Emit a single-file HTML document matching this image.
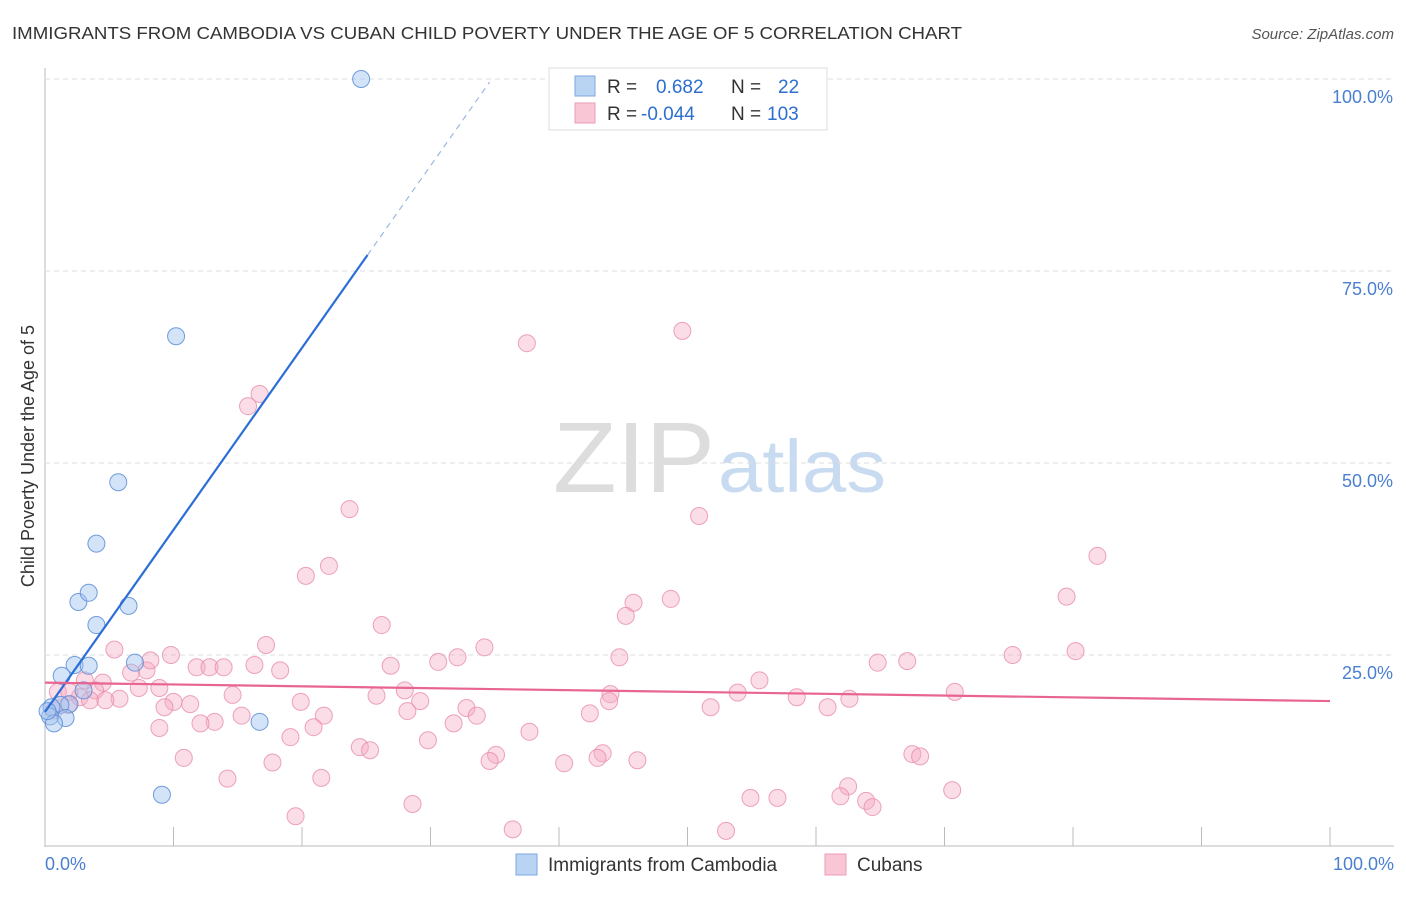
<!DOCTYPE html>
<html><head><meta charset="utf-8"><style>
body{margin:0;background:#fff;font-family:"Liberation Sans",sans-serif;}
svg text{font-family:"Liberation Sans",sans-serif;}
</style></head><body>
<svg id="chart" width="1406" height="892">
<text x="12" y="39" font-size="17.5" fill="#333" textLength="950" lengthAdjust="spacingAndGlyphs">IMMIGRANTS FROM CAMBODIA VS CUBAN CHILD POVERTY UNDER THE AGE OF 5 CORRELATION CHART</text>
<text x="1394" y="39" font-size="15" fill="#555" font-style="italic" text-anchor="end">Source: ZipAtlas.com</text>
<text x="34" y="456" font-size="18" fill="#333" text-anchor="middle" transform="rotate(-90 34 456)">Child Poverty Under the Age of 5</text>
<text x="553" y="492" font-size="100" fill="#ddd" font-family="Liberation Serif" textLength="162" lengthAdjust="spacingAndGlyphs">ZIP</text>
<text x="718" y="492" font-size="74" fill="#c8dbf0" textLength="168" lengthAdjust="spacingAndGlyphs">atlas</text>
<g id="grid"></g><g id="pts"></g><g id="lines"></g>
<g>
<rect x="549" y="68" width="278" height="62" fill="#fff" stroke="#ddd"/>
<rect x="575" y="76" width="20" height="20" fill="#b9d3f3" stroke="#7ea7e0"/>
<rect x="575" y="103" width="20" height="20" fill="#f9c6d5" stroke="#ec9cb6"/>
<text x="607" y="93" font-size="19" fill="#333">R = <tspan fill="#2d6fd0" x="656">0.682</tspan><tspan x="731" fill="#333">N =</tspan><tspan x="778" fill="#2d6fd0">22</tspan></text>
<text x="607" y="120" font-size="19" fill="#333">R = <tspan fill="#2d6fd0" x="641">-0.044</tspan><tspan x="731" fill="#333">N =</tspan><tspan x="767" fill="#2d6fd0">103</tspan></text>
</g>
<g>
<rect x="516" y="854" width="21" height="21" fill="#b9d3f3" stroke="#7ea7e0"/>
<text x="548" y="871" font-size="19" fill="#333">Immigrants from Cambodia</text>
<rect x="825" y="854" width="21" height="21" fill="#f9c6d5" stroke="#ec9cb6"/>
<text x="857" y="871" font-size="19" fill="#333">Cubans</text>
</g>
<text x="45" y="870" font-size="18" fill="#4a7fd0">0.0%</text>
<text x="1394" y="870" font-size="18" fill="#4a7fd0" text-anchor="end">100.0%</text>
</svg>
<script>
const yTicks=[25,50,75,100];
const yTickLabels=["25.0%","50.0%","75.0%","100.0%"];
const xTicks=[0,10,20,30,40,50,60,70,80,90,100];
const cambodiaX=[24.6,10.2,5.7,4.0,2.6,3.4,6.5,4.0,2.3,3.4,1.3,7.0,3.0,1.9,1.2,0.5,0.4,1.6,0.7,16.7,9.1,0.2];
const cambodiaY=[100,66.5,47.5,39.5,31.9,33.1,31.4,28.9,23.7,23.6,22.3,24.0,20.4,18.6,18.5,18.2,17.0,16.8,16.1,16.3,6.8,17.7];
const cubanX=[49.6,37.5,16.7,15.8,23.7,50.9,81.9,20.3,22.1,79.5,48.7,45.8,45.2,26.2,17.2,5.4,34.2,9.8,32.1,44.7,64.8,67.1,75.3,80.2,30.6,11.8,12.8,13.9,16.3,26.9,18.3,7.9,6.7,55.6,8.9,7.3,4.5,3.9,1.0,28.0,44.0,70.8,53.9,14.6,5.8,58.5,19.9,62.6,25.8,29.2,11.3,10.0,43.9,32.8,9.3,51.8,60.9,28.2,42.4,15.3,21.7,33.6,13.2,12.1,31.8,20.9,37.7,8.9,19.1,29.8,24.5,25.3,67.5,68.1,43.4,43.0,10.8,35.1,34.6,46.1,40.4,17.7,14.2,21.5,62.5,70.6,54.9,57.0,61.9,63.9,64.4,28.6,19.5,36.4,53.0,2.7,1.9,0.7,3.5,1.8,8.2,3.1,4.7];
const cubanY=[67.2,65.6,59.0,57.4,44.0,43.1,37.9,35.3,36.6,32.6,32.3,31.8,30.1,28.9,26.3,25.7,26.0,25.0,24.7,24.7,24.0,24.2,25.0,25.5,24.1,23.4,23.4,23.4,23.7,23.6,23.0,23.0,22.7,21.7,20.7,20.7,21.4,20.4,20.2,20.4,19.9,20.2,20.1,19.8,19.3,19.5,18.9,19.3,19.7,19.0,18.6,18.9,19.0,18.1,18.2,18.2,18.2,17.7,17.4,17.1,17.1,17.1,16.3,16.1,16.1,15.6,15.0,15.5,14.3,13.9,13.0,12.6,12.1,11.8,12.2,11.6,11.6,12.0,11.2,11.3,10.9,11.0,8.9,9.0,7.9,7.4,6.4,6.4,6.6,6.0,5.2,5.6,4.0,2.3,2.1,19.5,20.2,17.8,19.1,18.5,24.3,21.7,19.1];
const cambodiaTrend=[17.6,2.37];
const cubanTrend=[21.4,-0.024];
const X=v=>45+v*12.85, Y=v=>847-v*7.68;
const NS="http://www.w3.org/2000/svg";
function mk(t,a,p){const e=document.createElementNS(NS,t);for(const k in a)e.setAttribute(k,a[k]);p.appendChild(e);return e;}
const g=document.getElementById('grid');
mk('line',{x1:45,y1:68,x2:45,y2:847,stroke:'#bbb'},g);
mk('line',{x1:45,y1:846,x2:1394,y2:846,stroke:'#bbb'},g);
yTicks.forEach((t,i)=>{
 const l=mk('line',{x1:45,y1:Y(t),x2:1394,y2:Y(t),stroke:'#ddd','stroke-dasharray':'5,4'},g);
 
 
 const tx=mk('text',{x:1393,y:Y(t)+24,'font-size':18,fill:'#4a7fd0','text-anchor':'end'},g);
 tx.textContent=yTickLabels[i];
 
 
});
xTicks.forEach(t=>{
 const l=mk('line',{x1:X(t),y1:827,x2:X(t),y2:846,stroke:'#bbb'},g);
 
 
});
const p=document.getElementById('pts');
cubanX.forEach((x,i)=>{
 const c=mk('circle',{cx:X(x),cy:Y(cubanY[i]),r:8.5,fill:'rgba(246,170,195,0.4)',stroke:'rgba(232,140,172,0.8)'},p);
 
 
});
cambodiaX.forEach((x,i)=>{
 const c=mk('circle',{cx:X(x),cy:Y(cambodiaY[i]),r:8.5,fill:'rgba(160,195,240,0.45)',stroke:'rgba(90,140,215,0.85)'},p);
 
 
});
const L=document.getElementById('lines');
const bx1=25.1, bx2=34.6;
let b=mk('line',{x1:X(0),y1:Y(cambodiaTrend[0]),x2:X(bx1),y2:Y(cambodiaTrend[0]+cambodiaTrend[1]*bx1),stroke:'#2b6fd6','stroke-width':2.2},L);


b=mk('line',{x1:X(bx1),y1:Y(cambodiaTrend[0]+cambodiaTrend[1]*bx1),x2:X(bx2),y2:Y(cambodiaTrend[0]+cambodiaTrend[1]*bx2),stroke:'#9bb8e3','stroke-width':1.2,'stroke-dasharray':'6,5'},L);


b=mk('line',{x1:X(0),y1:Y(cubanTrend[0]),x2:X(100),y2:Y(cubanTrend[0]+cubanTrend[1]*100),stroke:'#e8658f','stroke-width':2.2},L);


</script>
</body></html>
